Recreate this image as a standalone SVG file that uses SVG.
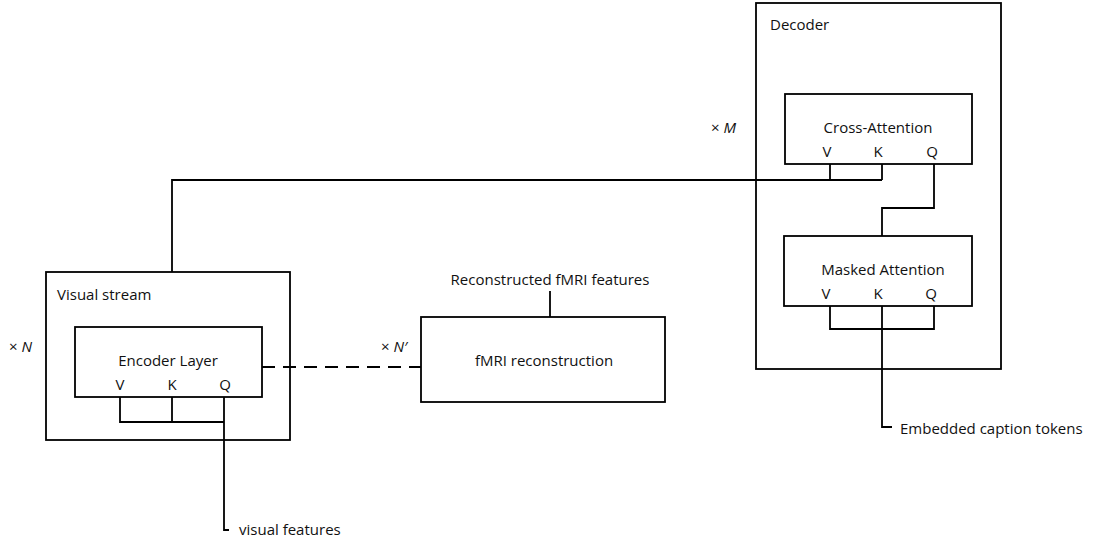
<svg xmlns="http://www.w3.org/2000/svg" width="1095" height="540" viewBox="0 0 1095 540">
  <style>
    .box { fill: none; stroke: #000; stroke-width: 1.8; }
    .wire { fill: none; stroke: #000; stroke-width: 1.8; }
    .dash { fill: none; stroke: #000; stroke-width: 1.8; stroke-dasharray: 13 8; }
    text { font-family: "Open Sans", "Liberation Sans", sans-serif; font-size: 15px; fill: #111; }
    .mid { text-anchor: middle; }
    .it { font-style: italic; }
  </style>
  <rect width="1095" height="540" fill="#fff"/>

  <!-- connectors -->
  <g id="connectors">
    <!-- encoder V/K/Q merge and visual feature input -->
    <path class="wire" d="M120,397 V422 H224 M172,397 V422 M224,397 V530 H229"/>
    <!-- visual stream output to cross-attention V and K -->
    <path class="wire" d="M172,272 V180 H882 M830,164 V180 M882,164 V180"/>
    <!-- cross-attention Q from masked attention -->
    <path class="wire" d="M934,164 V208 H882 V236"/>
    <!-- masked attention V/K/Q merge and caption token input -->
    <path class="wire" d="M830,306 V329 H934 V306 M882,306 V427 H892"/>
    <!-- reconstructed features output -->
    <path class="wire" d="M550,317 V291"/>
    <!-- encoder layer to fMRI reconstruction -->
    <path class="dash" d="M262,367 H421"/>
  </g>

  <g id="visual-stream">
    <rect class="box" x="46" y="272" width="244" height="168"/>
    <text x="57" y="300">Visual stream</text>
  </g>

  <g id="encoder-layer">
    <rect class="box" x="75" y="327" width="187" height="70"/>
    <text class="mid" x="168" y="366">Encoder Layer</text>
    <text class="mid" x="120" y="390">V</text>
    <text class="mid" x="172" y="390">K</text>
    <text class="mid" x="225" y="390">Q</text>
  </g>

  <g id="fmri-reconstruction">
    <rect class="box" x="421" y="317" width="244" height="85"/>
    <text class="mid" x="544" y="366">fMRI reconstruction</text>
  </g>

  <g id="decoder">
    <rect class="box" x="756" y="3" width="245" height="366"/>
    <text x="770" y="30">Decoder</text>
  </g>

  <g id="cross-attention">
    <rect class="box" x="785" y="94" width="187" height="70"/>
    <text class="mid" x="878" y="133">Cross-Attention</text>
    <text class="mid" x="827" y="157">V</text>
    <text class="mid" x="878" y="157">K</text>
    <text class="mid" x="932" y="157">Q</text>
  </g>

  <g id="masked-attention">
    <rect class="box" x="784" y="236" width="188" height="70"/>
    <text class="mid" x="883" y="275">Masked Attention</text>
    <text class="mid" x="826" y="299">V</text>
    <text class="mid" x="878" y="299">K</text>
    <text class="mid" x="931" y="299">Q</text>
  </g>

  <!-- labels -->
  <g id="labels">
    <text x="239" y="535">visual features</text>
    <text x="900" y="434">Embedded caption tokens</text>
    <text class="mid" x="550" y="285">Reconstructed fMRI features</text>
    <text x="9" y="352">× <tspan class="it">N</tspan></text>
    <text x="381" y="352">× <tspan class="it">N′</tspan></text>
    <text x="711" y="133">× <tspan class="it">M</tspan></text>
  </g>
</svg>
